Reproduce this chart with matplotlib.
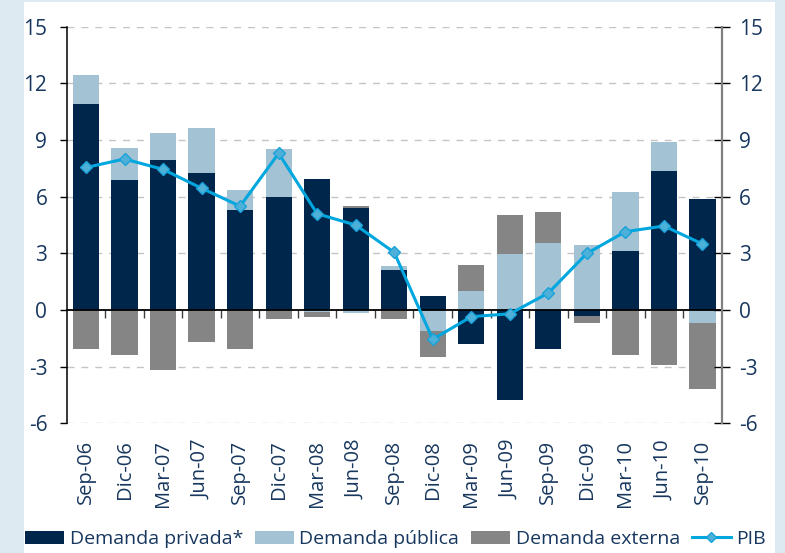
import numpy as np
import matplotlib
matplotlib.use("Agg")
import matplotlib.pyplot as plt
from matplotlib.patches import Rectangle, Patch
from matplotlib.lines import Line2D

categories = ["Sep-06", "Dic-06", "Mar-07", "Jun-07", "Sep-07", "Dic-07", "Mar-08", "Jun-08",
              "Sep-08", "Dic-08", "Mar-09", "Jun-09", "Sep-09", "Dic-09", "Mar-10", "Jun-10", "Sep-10"]
privada = [10.9, 6.9, 7.95, 7.25, 5.3, 6.0, 6.95, 5.4, 2.1, 0.75, -1.8, -4.75, -2.05, -0.3, 3.15, 7.35, 5.9]
publica = [1.55, 1.7, 1.45, 2.4, 1.05, 2.55, -0.1, -0.18, 0.25, -1.1, 1.0, 2.95, 3.55, 3.45, 3.1, 1.55, -0.7]
externa = [-2.05, -2.4, -3.15, -1.7, -2.05, -0.5, -0.25, 0.1, -0.45, -1.4, 1.4, 2.1, 1.65, -0.4, -2.4, -2.9, -3.5]
pib = [7.55, 8.0, 7.45, 6.45, 5.5, 8.3, 5.1, 4.5, 3.05, -1.55, -0.35, -0.2, 0.9, 3.0, 4.15, 4.45, 3.5]
yticks = [-6, -3, 0, 3, 6, 9, 12, 15]

series = [("Demanda privada*", privada, "#00264C"),
          ("Demanda pública", publica, "#A3C2D4"),
          ("Demanda externa", externa, "#858585")]
pib_color = "#00A6DE"
txt_color = "#17375E"
FONT = ["Open Sans", "DejaVu Sans"]
plt.rcParams["font.family"] = FONT
plt.rcParams["axes.unicode_minus"] = False

fig = plt.figure(figsize=(7.85, 5.53), dpi=100)
fig.patch.set_facecolor("#DDEAF2")
fig.patches.append(Rectangle((24 / 785, 0), 751 / 785, 551 / 553, transform=fig.transFigure,
                             facecolor="white", edgecolor="none", zorder=-10))

ax = fig.add_axes([0.085, 0.2345, 0.8344, 0.717])
ax.patch.set_alpha(0)
x = np.arange(len(categories))
pos_bottom = np.zeros(len(x))
neg_bottom = np.zeros(len(x))
handles = []
for name, vals, col in series:
    v = np.array(vals, dtype=float)
    bottoms = np.where(v >= 0, pos_bottom, neg_bottom)
    ax.bar(x, v, width=0.68, bottom=bottoms, color=col, zorder=2)
    pos_bottom = pos_bottom + np.where(v >= 0, v, 0)
    neg_bottom = neg_bottom + np.where(v < 0, v, 0)
    handles.append(Patch(facecolor=col, edgecolor="none", label=name))

ax.plot(x, pib, color=pib_color, lw=2.2, marker="D", markersize=6.5,
        markerfacecolor="#4DB0D8", markeredgecolor="#1AA2DA", zorder=5)
handles.append(Line2D([], [], color=pib_color, lw=2.2, marker="D", markersize=5,
                      markerfacecolor="#4DB0D8", markeredgecolor="#1AA2DA", label="PIB"))

ax.set_xlim(-0.5, len(categories) - 0.5)
ax.set_ylim(-6, 15)
ax.set_yticks(yticks)
for yv in yticks:
    if yv != 0:
        ax.axhline(yv, color="#C4C4C4", lw=1.0, ls=(0, (5, 5)), zorder=0)

ax.spines["top"].set_visible(False)
ax.spines["right"].set_visible(False)
ax.spines["left"].set_color("black")
ax.spines["left"].set_linewidth(1.1)
ax.spines["bottom"].set_position(("data", 0))
ax.spines["bottom"].set_color("black")
ax.spines["bottom"].set_linewidth(1.3)
ax.spines["bottom"].set_zorder(3)

ax.set_xticks(x[:-1] + 0.5)
ax.set_xticklabels([])
ax.tick_params(axis="x", direction="out", length=6, width=1, color="#404040")
ax.tick_params(axis="y", direction="out", length=5, width=1, color="black",
               labelsize=15, labelcolor=txt_color, pad=9)

for xi, lab in zip(x, categories):
    ax.text(xi, -0.042, lab, transform=ax.get_xaxis_transform(), rotation=90,
            ha="center", va="top", fontsize=14.5, color=txt_color)

ax2 = ax.twinx()
ax2.set_ylim(-6, 15)
ax2.set_yticks(yticks)
for s in ["top", "left", "bottom"]:
    ax2.spines[s].set_visible(False)
ax2.spines["right"].set_color("#808080")
ax2.spines["right"].set_linewidth(1.6)
ax2.tick_params(axis="y", direction="inout", length=11, width=1, color="black",
                labelsize=15, labelcolor=txt_color, pad=7)

fig.legend(handles=handles, loc="center left", bbox_to_anchor=(25 / 785, 1 - 539 / 553),
           bbox_transform=fig.transFigure, ncol=4, frameon=False, fontsize=14,
           handlelength=2.0, handleheight=0.68, handletextpad=0.3, columnspacing=0.6,
           borderpad=0, borderaxespad=0, labelcolor=txt_color)

fig.savefig("out.png", dpi=100, facecolor=fig.get_facecolor())
